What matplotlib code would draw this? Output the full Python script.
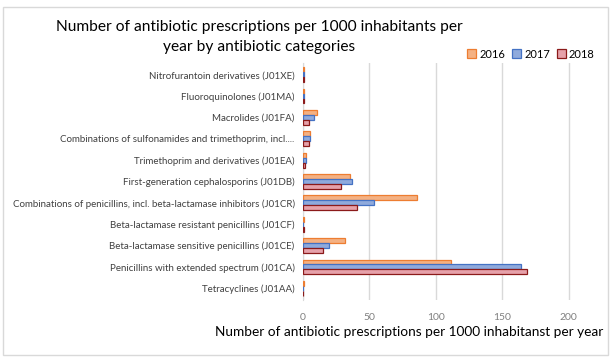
import matplotlib
matplotlib.use("Agg")
import matplotlib.pyplot as plt
import numpy as np

categories = [
    "Tetracyclines (J01AA)",
    "Penicillins with extended spectrum (J01CA)",
    "Beta-lactamase sensitive penicillins (J01CE)",
    "Beta-lactamase resistant penicillins (J01CF)",
    "Combinations of penicillins, incl. beta-lactamase inhibitors (J01CR)",
    "First-generation cephalosporins (J01DB)",
    "Trimethoprim and derivatives (J01EA)",
    "Combinations of sulfonamides and trimethoprim, incl....",
    "Macrolides (J01FA)",
    "Fluoroquinolones (J01MA)",
    "Nitrofurantoin derivatives (J01XE)",
]
v2016 = [0.8, 111.6, 31.9, 0.5, 86.0, 35.6, 2.3, 5.5, 10.5, 0.8, 0.8]
v2017 = [0.0, 164.0, 19.8, 0.1, 53.4, 37.1, 2.3, 5.3, 8.5, 0.8, 0.8]
v2018 = [0.0, 168.4, 15.3, 1.0, 40.9, 28.9, 1.5, 4.5, 4.5, 0.8, 0.8]
years = ["2016", "2017", "2018"]
xticks = [0, 50, 100, 150, 200]

plt.rcParams['font.family'] = ['Lato', 'DejaVu Sans']

fig = plt.figure(figsize=(6.14, 3.58), dpi=100)
fig.patch.set_facecolor('white')
ax = fig.add_axes([303/614, 1 - 300/358, (606-303)/614, (300-63)/358])

y = np.arange(len(categories))
h = 0.23
fills = ['#F4B183', '#8FAADC', '#E6A1AA']
edges = ['#ED7D31', '#4472C4', '#8B1A1A']
for i, (vals, lab) in enumerate(zip([v2016, v2017, v2018], years)):
    ax.barh(y + (1 - i) * h, vals, height=h, color=fills[i], edgecolor=edges[i],
            linewidth=0.9, label=lab, zorder=3)

ax.set_yticks(y)
ax.set_yticklabels(categories, fontsize=7, color='#404040')
ax.set_ylim(-0.55, len(categories) - 0.45)
ax.set_xlim(0, 228)
ax.set_xticks(xticks)
ax.set_xticklabels([str(t) for t in xticks], fontsize=7.5, color='#808080')
ax.tick_params(axis='y', length=0, pad=6)
ax.tick_params(axis='x', length=0, pad=9)
ax.grid(axis='x', color='#D9D9D9', linewidth=1, zorder=0)
for s in ['top', 'right', 'bottom']:
    ax.spines[s].set_visible(False)
ax.spines['left'].set_color('#D9D9D9')

fig.text(409/614, 1 - 332/358,
         "Number of antibiotic prescriptions per 1000 inhabitanst per year",
         ha='center', va='center', fontsize=9.8, color='black')

fig.text(259/614, 1 - 37/358,
         "Number of antibiotic prescriptions per 1000 inhabitants per\nyear by antibiotic categories",
         ha='center', va='center', fontsize=11.2, color='black', linespacing=1.5)

leg = fig.legend(loc='center', bbox_to_anchor=(531/614, 1 - 54/358), ncol=3, frameon=False,
                 fontsize=8, handlelength=0.8, handleheight=0.8, handletextpad=0.3,
                 columnspacing=0.6)

border = plt.Rectangle((3/614, 3/358), 605/614, 348/358, transform=fig.transFigure,
                       fill=False, edgecolor='#D9D9D9', linewidth=1)
fig.patches.append(border)

fig.savefig("out.png", dpi=100)
